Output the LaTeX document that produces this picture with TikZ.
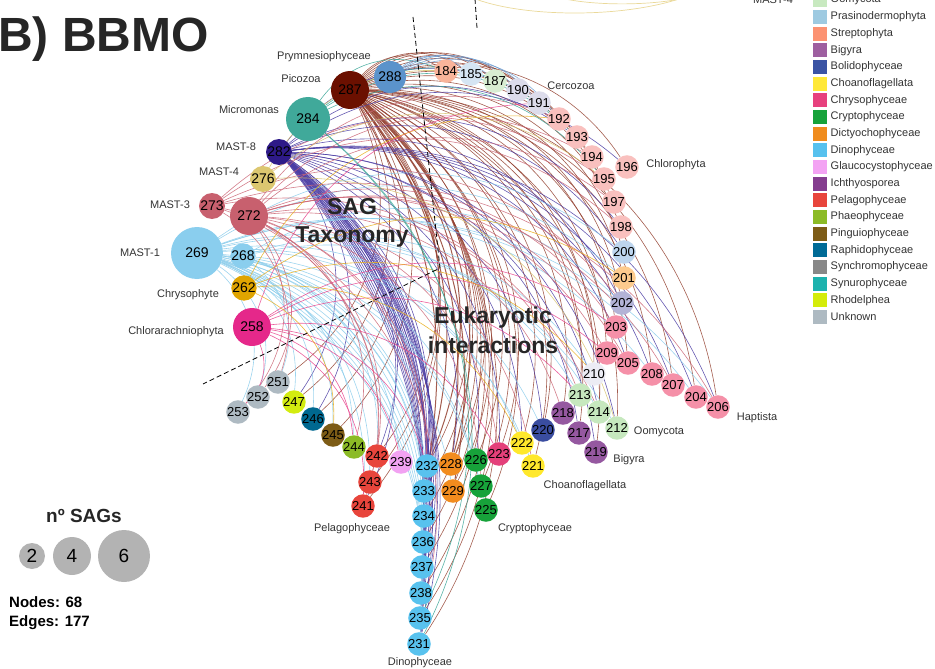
\documentclass[tikz,border=0pt]{standalone}
\usepackage{fontspec}
\setmainfont{Liberation Sans}
\usetikzlibrary{backgrounds}
\newcommand\myfs[1]{\fontsize{#1}{#1}\selectfont}
% node colours
\definecolor{cA}{HTML}{F9B49A}\definecolor{cB}{HTML}{D5E5F3}\definecolor{cC}{HTML}{D8EDD2}
\definecolor{cD}{HTML}{DCDCEB}\definecolor{cE}{HTML}{F9C0BE}\definecolor{cF}{HTML}{BDD5EE}
\definecolor{cG}{HTML}{FDCB8E}\definecolor{cH}{HTML}{B3B3D6}\definecolor{cI}{HTML}{F590A8}
\definecolor{cJ}{HTML}{ECECF4}\definecolor{cK}{HTML}{C6E8BE}\definecolor{cL}{HTML}{9558A0}
\definecolor{cM}{HTML}{3A4DA0}\definecolor{cN}{HTML}{FFE82C}\definecolor{cO}{HTML}{E4407A}
\definecolor{cP}{HTML}{17A23A}\definecolor{cQ}{HTML}{F28C1E}\definecolor{cR}{HTML}{58C2EE}
\definecolor{cS}{HTML}{F2A2F2}\definecolor{cT}{HTML}{E8453C}\definecolor{cU}{HTML}{8CBB26}
\definecolor{cV}{HTML}{7D5C16}\definecolor{cW}{HTML}{006890}\definecolor{cX}{HTML}{D3EC10}
\definecolor{cY}{HTML}{AEBAC2}
\definecolor{hA}{HTML}{5B93CB}\definecolor{hB}{HTML}{6B1000}\definecolor{hC}{HTML}{40A99A}
\definecolor{hD}{HTML}{2E1A88}\definecolor{hE}{HTML}{DCC770}\definecolor{hF}{HTML}{C8606E}
\definecolor{hG}{HTML}{8ACEEE}\definecolor{hH}{HTML}{E0A400}\definecolor{hI}{HTML}{E5288A}
% edge colours
\definecolor{k287}{HTML}{93402F}\definecolor{k282}{HTML}{4A3BA3}\definecolor{k269}{HTML}{8CCDEB}
\definecolor{k272}{HTML}{CC6777}\definecolor{k258}{HTML}{E8438C}\definecolor{k262}{HTML}{E8AE1C}
\definecolor{k284}{HTML}{3AA597}\definecolor{k288}{HTML}{6B9BD0}\definecolor{k276}{HTML}{D8C46E}
\definecolor{topyel}{HTML}{EAD99A}
% legend colours
\definecolor{lOom}{HTML}{C8E9C0}\definecolor{lPra}{HTML}{9ECAE1}\definecolor{lStr}{HTML}{FC9272}
\definecolor{lBig}{HTML}{9E5FA0}\definecolor{lBol}{HTML}{3A53A4}\definecolor{lCho}{HTML}{FFE838}
\definecolor{lChr}{HTML}{E7417E}\definecolor{lCry}{HTML}{16A23A}\definecolor{lDic}{HTML}{F08C1E}
\definecolor{lDin}{HTML}{57C1EE}\definecolor{lGla}{HTML}{F3A3F3}\definecolor{lIch}{HTML}{853D8F}
\definecolor{lPel}{HTML}{E8453C}\definecolor{lPha}{HTML}{8CBB26}\definecolor{lPin}{HTML}{7D5C16}
\definecolor{lRap}{HTML}{006B96}\definecolor{lSyc}{HTML}{888888}\definecolor{lSyn}{HTML}{1CB2AE}
\definecolor{lRho}{HTML}{D4EC0A}\definecolor{lUnk}{HTML}{AEBAC2}
\definecolor{txt}{HTML}{333333}\definecolor{big}{HTML}{262626}\definecolor{sizegrey}{HTML}{B3B3B3}
\begin{document}
\begin{tikzpicture}[x=1pt,y=-1pt,
  sn/.style={circle,inner sep=0pt,minimum size=21pt,font=\myfs{13}},
  hub/.style={circle,inner sep=0pt,font=\myfs{14}},
  lab/.style={font=\myfs{11},text=txt,inner sep=0pt},
  bigtxt/.style={font=\myfs{23}\bfseries,text=big,inner sep=0pt},
  ed/.style={line width=0.6pt,opacity=0.85},
  dl/.style={dash pattern=on 5pt off 3pt,line width=0.8pt,black},
  legsq/.style={rectangle,inner sep=0pt,minimum size=14pt},
  legtx/.style={font=\myfs{11},text=txt,inner sep=0pt,anchor=west},
  szc/.style={circle,fill=sizegrey,inner sep=0pt,font=\myfs{19}}]
\useasboundingbox (0,0) rectangle (935,669);

% ---- hub nodes
\foreach \n/\x/\y/\d/\c in {288/390/77/32/hA,287/350/90/38/hB,284/308/119/44/hC,
  282/279/152/26/hD,276/263/179/26/hE,273/212/206/26/hF,272/249/216/38/hF,
  269/197/253/52/hG,268/243/256/24/hG,262/244/288/24/hH,258/252/327/38/hI}
  \node[hub,fill=\c,minimum size=\d pt] (n\n) at (\x,\y) {\n};

% ---- target nodes
\foreach \n/\x/\y/\c in {184/446/71/cA,185/471/74/cB,187/495/81/cC,190/518/90/cD,
  191/539/103/cD,192/559/119/cE,193/577/137/cE,194/592/157/cE,195/604/179/cE,
  196/627/167/cE,197/614/202/cE,198/621/227/cE,200/624/252/cF,201/624/278/cG,
  202/622/303/cH,203/616/327/cI,209/607/353/cI,205/628/363/cI,208/652/374/cI,
  207/673/385/cI,204/696/397/cI,206/718/407/cI,210/594/374/cJ,213/580/395/cK,
  214/599/412/cK,212/617/428/cK,218/563/413/cL,217/579/433/cL,219/596/452/cL,
  220/543/430/cM,222/522/443/cN,221/533/466/cN,223/499/454/cO,226/476/460/cP,
  227/481/486/cP,225/486/510/cP,228/451/464/cQ,229/453/491/cQ,232/427/466/cR,
  233/424/491/cR,234/424/516/cR,236/423/542/cR,237/422/567/cR,238/421/593/cR,
  235/420/618/cR,231/419/644/cR,239/401/462/cS,242/377/456/cT,243/370/482/cT,
  241/363/506/cT,244/354/447/cU,245/333/435/cV,246/313/419/cW,247/294/402/cX,
  251/278/382/cY,252/258/397/cY,253/238/412/cY}
  \node[sn,fill=\c] (n\n) at (\x,\y) {\n};

% ---- edges
\begin{scope}[on background layer]
\foreach \t in {184,185,187,190,191,192,193,194,195,196,197,198,200,201,202,203,204,
  205,206,207,208,209,210,212,213,214,217,218,219,220,221,222,223,225,226,227,228,
  229,231,232,233,234,235,236,237,238,241,242,243,245,246,247,251}
  \draw[ed,k287] (n287) to[bend left=40] (n\t);
\foreach \t/\b in {228/22,229/24,232/26,233/20,228/30,232/34}
  \draw[ed,k287,line width=1pt] (n287) to[bend left=\b] (n\t);
\foreach \t in {190,193,196,198,200,202,204,205,206,207,208,212,214,217,219,220,222,
  223,226,228,241,242,246,247}
  \draw[ed,k282] (n282) to[bend left=38] (n\t);
\foreach \t in {231,232,233,234,235,236,237,238}{
  \draw[ed,k282] (n282) to[bend left=22] (n\t);
  \draw[ed,k282] (n282) to[bend left=26] (n\t);
  \draw[ed,k282] (n282) to[bend left=30] (n\t);}
\foreach \t in {200,201,204,206,208,212,213,220,221,222,225,227,229,231,232,233,234,
  235,236,237,238,239,241,243,244,245,246,247,252,253}
  \draw[ed,k269] (n269) to[bend left=36] (n\t);
\foreach \t in {202,210,214,226,234,236,242,251}
  \draw[ed,k269] (n268) to[bend left=36] (n\t);
\foreach \t in {192,194,197,203,205,207,209,213,218,221,223,227,233,235,241,243,244,252,253}
  \draw[ed,k272] (n272) to[bend left=38] (n\t);
\foreach \t in {195,198,202,206,214,232,242,251}
  \draw[ed,k272] (n273) to[bend left=38] (n\t);
\foreach \t in {191,203,209,213,223,232,241,244,239,253}
  \draw[ed,k258] (n258) to[bend left=34] (n\t);
\foreach \t in {192,201,210,222,245}
  \draw[ed,k262] (n262) to[bend left=34] (n\t);
\foreach \t in {184,192,193,195,231,235}
  \draw[ed,k284] (n284) to[bend left=38] (n\t);
\foreach \t in {185,187,190,191,192}
  \draw[ed,k288] (n288) to[bend left=38] (n\t);
\foreach \t in {187,195,212}
  \draw[ed,k276] (n276) to[bend left=38] (n\t);
\end{scope}

% ---- dashed separators and top fragments
\coordinate (d1) at (413,17); \coordinate (d2) at (440,268); \coordinate (d3) at (203,384);
\draw[dl] (d1) -- (d2) -- (d3);
\coordinate (t1) at (475,-1); \coordinate (t2) at (477,28);
\draw[dl] (t1) -- (t2);
\coordinate (y1) at (473,-2); \coordinate (y2) at (682,-2);
\draw[topyel,line width=0.7pt] (y1) .. controls (520,17) and (620,19) .. (y2);
\coordinate (y3) at (565,-1); \coordinate (y4) at (680,-1);
\draw[topyel,line width=0.7pt] (y3) .. controls (600,6) and (650,5) .. (y4);
\node[lab,anchor=base] (mast4top) at (773,4) {MAST-4};

% ---- group labels
\node[lab] (lPry) at (324,57) {Prymnesiophyceae};
\node[lab] (lPic) at (301,79) {Picozoa};
\node[lab] (lMic) at (249,110) {Micromonas};
\node[lab] (lM8) at (236,147) {MAST-8};
\node[lab] (lM4) at (219,172) {MAST-4};
\node[lab] (lM3) at (170,205) {MAST-3};
\node[lab] (lM1) at (140,253) {MAST-1};
\node[lab] (lChy) at (188,295) {Chrysophyte};
\node[lab] (lChl) at (176,332) {Chlorarachniophyta};
\node[lab] (lCer) at (571,86) {Cercozoa};
\node[lab] (lCho) at (676,165) {Chlorophyta};
\node[lab] (lHap) at (757,418) {Haptista};
\node[lab] (lOoy) at (659,432) {Oomycota};
\node[lab] (lBgy) at (629,460) {Bigyra};
\node[lab] (lChf) at (585,486) {Choanoflagellata};
\node[lab] (lCry) at (535,529) {Cryptophyceae};
\node[lab] (lPel) at (352,529) {Pelagophyceae};
\node[lab] (lDin) at (420,663) {Dinophyceae};

% ---- big texts
\node[bigtxt] (sag) at (352,207) {SAG};
\node[bigtxt] (tax) at (352,237) {Taxonomy};
\node[bigtxt] (euk) at (493,318) {Eukaryotic};
\node[bigtxt] (int) at (493,345) {interactions};
\node[font=\myfs{48}\bfseries,text=big,inner sep=0pt,anchor=base west] (title) at (-2,52) {B) BBMO};

% ---- size legend
\node[font=\myfs{19}\bfseries,text=big,inner sep=0pt] (nsag) at (84,516) {nº SAGs};
\node[szc,minimum size=26pt] (s2) at (32,556) {2};
\node[szc,minimum size=38pt] (s4) at (72,556) {4};
\node[szc,minimum size=52pt] (s6) at (124,556) {6};
\node[font=\myfs{15}\bfseries,text=black,inner sep=0pt,anchor=base west] (nodes) at (9,607) {Nodes: 68};
\node[font=\myfs{15}\bfseries,text=black,inner sep=0pt,anchor=base west] (edges) at (9,626) {Edges: 177};

% ---- colour legend
\foreach \nm/\col [count=\i from 0] in {Oomycota/lOom,Prasinodermophyta/lPra,Streptophyta/lStr,
  Bigyra/lBig,Bolidophyceae/lBol,Choanoflagellata/lCho,Chrysophyceae/lChr,Cryptophyceae/lCry,
  Dictyochophyceae/lDic,Dinophyceae/lDin,Glaucocystophyceae/lGla,Ichthyosporea/lIch,
  Pelagophyceae/lPel,Phaeophyceae/lPha,Pinguiophyceae/lPin,Raphidophyceae/lRap,
  Synchromophyceae/lSyc,Synurophyceae/lSyn,Rhodelphea/lRho,Unknown/lUnk}{
  \node[legsq,fill=\col] (sq\i) at (820,0.3+16.67*\i) {};
  \node[legtx] (lt\i) at (830.5,0.3+16.67*\i) {\nm};}
\end{tikzpicture}
\end{document}
